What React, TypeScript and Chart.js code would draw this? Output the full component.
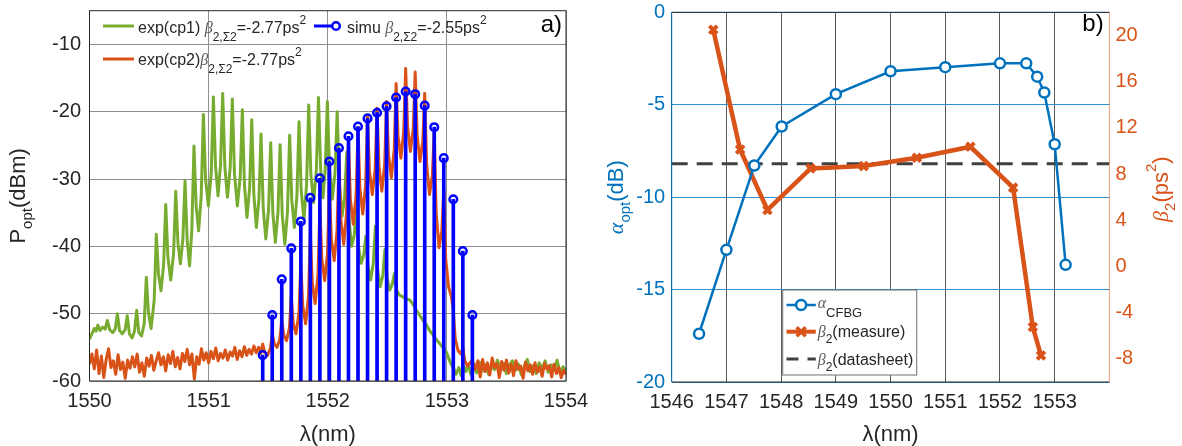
import React, { useEffect, useRef } from "react";
import { Chart, registerables } from "chart.js";

Chart.register(...registerables);

const FONT = "'Liberation Sans', Arial, Helvetica, sans-serif";
const SERIF = "'Liberation Serif', 'DejaVu Serif', serif";

// ---------------- Panel a) data ----------------
const xTicksA = [1550, 1551, 1552, 1553, 1554];
const yTicksA = [-60, -50, -40, -30, -20, -10];

// simulated comb lines (stems)
const simuLambda = [
  1551.454, 1551.534, 1551.614, 1551.694, 1551.774, 1551.854, 1551.934, 1552.014,
  1552.094, 1552.174, 1552.254, 1552.334, 1552.414, 1552.494, 1552.574, 1552.654,
  1552.734, 1552.814, 1552.894, 1552.974, 1553.054, 1553.134, 1553.214,
];
const simuPower = [
  -56.15, -50.2, -44.9, -40.3, -36.3, -32.8, -29.9, -27.4, -25.4, -23.65, -22.2, -21.0,
  -20.15, -19.2, -17.9, -17.0, -17.4, -19.1, -22.3, -26.9, -33.0, -40.7, -50.2,
];

// exp(cp1) measured spectrum [lambda nm, dBm]
const cp1Spectrum: [number, number][] = [
  [1550.000, -53.8], [1550.020, -53.0], [1550.040, -52.2], [1550.055, -52.6], [1550.070, -51.7], [1550.088, -52.5],
  [1550.110, -52.0], [1550.132, -52.3], [1550.150, -51.0], [1550.170, -52.4], [1550.195, -52.8], [1550.216, -52.3],
  [1550.234, -50.0], [1550.252, -52.5], [1550.275, -53.0], [1550.299, -52.4], [1550.317, -50.3], [1550.335, -53.0],
  [1550.357, -53.6], [1550.378, -52.6], [1550.396, -49.5], [1550.414, -52.8], [1550.437, -53.3], [1550.459, -51.5],
  [1550.477, -44.6], [1550.495, -49.9], [1550.517, -52.2], [1550.543, -48.0],
  [1550.561, -38.2], [1550.579, -44.1], [1550.600, -46.6], [1550.622, -42.8],
  [1550.640, -33.8], [1550.658, -41.6], [1550.682, -45.0], [1550.706, -41.0],
  [1550.724, -31.8], [1550.742, -39.4], [1550.763, -42.6], [1550.784, -38.9],
  [1550.802, -30.3], [1550.820, -39.1], [1550.840, -42.9], [1550.859, -37.6],
  [1550.877, -25.1], [1550.895, -33.9], [1550.916, -37.7], [1550.938, -32.5],
  [1550.956, -20.4], [1550.974, -29.9], [1550.998, -34.0], [1551.022, -29.1],
  [1551.040, -17.8], [1551.058, -28.1], [1551.079, -32.5], [1551.100, -27.9],
  [1551.118, -17.3], [1551.136, -28.1], [1551.158, -32.7], [1551.181, -28.3],
  [1551.199, -18.1], [1551.217, -29.2], [1551.241, -34.0], [1551.265, -29.7],
  [1551.283, -19.7], [1551.301, -30.9], [1551.322, -35.7], [1551.344, -31.4],
  [1551.362, -21.2], [1551.380, -32.4], [1551.401, -37.2], [1551.422, -33.0],
  [1551.440, -23.3], [1551.458, -34.2], [1551.480, -38.9], [1551.503, -34.6],
  [1551.521, -24.6], [1551.539, -35.0], [1551.560, -39.4], [1551.582, -35.0],
  [1551.600, -24.9], [1551.618, -35.3], [1551.640, -39.7], [1551.662, -34.8],
  [1551.680, -23.5], [1551.698, -33.1], [1551.720, -37.2], [1551.741, -32.5],
  [1551.759, -21.5], [1551.777, -31.7], [1551.800, -36.0], [1551.822, -30.9],
  [1551.840, -19.0], [1551.858, -29.2], [1551.881, -33.5], [1551.904, -28.8],
  [1551.922, -17.9], [1551.940, -28.3], [1551.960, -32.8], [1551.979, -28.5],
  [1551.997, -18.5], [1552.015, -28.7], [1552.038, -33.0], [1552.061, -29.1],
  [1552.079, -20.0], [1552.097, -30.9], [1552.120, -35.5], [1552.142, -32.6],
  [1552.160, -26.0], [1552.178, -35.8], [1552.200, -40.0], [1552.222, -38.4],
  [1552.240, -34.5], [1552.258, -40.1], [1552.280, -42.5], [1552.302, -41.3],
  [1552.320, -38.5], [1552.338, -43.0], [1552.360, -45.0], [1552.382, -42.6],
  [1552.400, -37.0], [1552.418, -43.3], [1552.440, -46.0], [1552.462, -44.4],
  [1552.480, -40.5], [1552.498, -44.7], [1552.520, -46.5], [1552.542, -45.6],
  [1552.560, -44.0], [1552.578, -46.5], [1552.600, -47.2], [1552.630, -47.5], [1552.660, -47.8], [1552.690, -48.0],
  [1552.715, -48.6], [1552.745, -49.5], [1552.770, -50.2], [1552.800, -51.0], [1552.826, -51.6], [1552.855, -52.5],
  [1552.882, -53.1], [1552.910, -53.8], [1552.938, -54.4], [1552.965, -55.0], [1552.993, -55.6], [1553.015, -56.6],
  [1553.035, -57.5], [1553.055, -58.1], [1553.077, -59.0], [1553.100, -58.0], [1553.120, -59.2], [1553.140, -57.8],
  [1553.160, -58.6], [1553.180, -57.5], [1553.200, -59.0], [1553.225, -57.9], [1553.250, -58.8], [1553.275, -57.2],
  [1553.300, -58.5], [1553.325, -57.6], [1553.350, -59.0], [1553.375, -57.8], [1553.400, -58.3], [1553.425, -56.9],
  [1553.450, -58.6], [1553.475, -57.4], [1553.500, -58.9], [1553.525, -57.6], [1553.550, -57.0], [1553.575, -58.4],
  [1553.600, -57.5], [1553.625, -59.1], [1553.650, -57.8], [1553.675, -56.8], [1553.700, -58.6], [1553.725, -57.7],
  [1553.750, -58.9], [1553.775, -57.3], [1553.800, -58.2], [1553.825, -57.0], [1553.850, -58.7], [1553.875, -57.6],
  [1553.900, -58.4], [1553.925, -56.9], [1553.950, -58.8], [1553.975, -57.9], [1554.000, -58.6],
];

// exp(cp2) measured spectrum [lambda nm, dBm]
const cp2Spectrum: [number, number][] = [
  [1550.000, -57.5], [1550.020, -56.0], [1550.040, -58.2], [1550.060, -55.4], [1550.080, -58.9], [1550.100, -56.3],
  [1550.120, -59.5], [1550.140, -56.8], [1550.160, -55.2], [1550.180, -58.0], [1550.200, -57.0], [1550.220, -59.0],
  [1550.240, -56.1], [1550.260, -58.3], [1550.280, -57.2], [1550.300, -59.6], [1550.320, -56.9], [1550.340, -58.1],
  [1550.360, -56.4], [1550.380, -57.9], [1550.400, -56.0], [1550.420, -58.7], [1550.440, -57.3], [1550.460, -59.3],
  [1550.480, -56.6], [1550.500, -57.8], [1550.520, -56.2], [1550.540, -58.4], [1550.560, -57.0], [1550.580, -55.8],
  [1550.600, -57.6], [1550.620, -56.4], [1550.640, -58.5], [1550.660, -56.1], [1550.680, -57.4], [1550.700, -55.6],
  [1550.720, -57.9], [1550.740, -56.5], [1550.760, -58.2], [1550.780, -55.9], [1550.800, -57.1], [1550.820, -55.3],
  [1550.840, -57.6], [1550.860, -56.0], [1550.880, -59.7], [1550.900, -56.4], [1550.920, -57.5], [1550.940, -55.2],
  [1550.960, -56.9], [1550.980, -55.8], [1551.000, -57.3], [1551.020, -55.6], [1551.040, -56.7], [1551.060, -55.1],
  [1551.080, -57.0], [1551.100, -55.9], [1551.120, -56.6], [1551.140, -55.4], [1551.160, -56.9], [1551.180, -55.7],
  [1551.200, -56.3], [1551.220, -55.0], [1551.240, -56.8], [1551.260, -55.5], [1551.280, -56.4], [1551.300, -54.9],
  [1551.320, -56.2], [1551.340, -55.3], [1551.360, -56.0], [1551.380, -54.8], [1551.400, -55.8], [1551.420, -55.0],
  [1551.438, -55.9],
  [1551.454, -54.5], [1551.470, -55.7], [1551.494, -56.2], [1551.518, -55.2],
  [1551.534, -53.0], [1551.550, -54.4], [1551.574, -55.0], [1551.598, -53.8],
  [1551.614, -51.0], [1551.630, -53.1], [1551.654, -54.0], [1551.678, -52.1],
  [1551.694, -47.5], [1551.710, -51.4], [1551.734, -53.0], [1551.758, -49.9],
  [1551.774, -42.5], [1551.790, -48.8], [1551.814, -51.5], [1551.838, -47.5],
  [1551.854, -38.0], [1551.870, -45.4], [1551.894, -48.5], [1551.918, -44.2],
  [1551.934, -34.0], [1551.950, -41.8], [1551.974, -45.1], [1551.998, -41.0],
  [1552.014, -31.3], [1552.030, -38.9], [1552.054, -42.1], [1552.078, -37.7],
  [1552.094, -27.4], [1552.110, -36.0], [1552.134, -39.7], [1552.158, -35.1],
  [1552.174, -24.4], [1552.190, -33.0], [1552.214, -36.7], [1552.238, -32.4],
  [1552.254, -22.4], [1552.270, -31.4], [1552.294, -35.2], [1552.318, -30.9],
  [1552.334, -20.7], [1552.350, -28.8], [1552.374, -32.3], [1552.398, -28.5],
  [1552.414, -19.5], [1552.430, -28.1], [1552.454, -31.8], [1552.478, -27.8],
  [1552.494, -18.5], [1552.510, -26.4], [1552.534, -29.8], [1552.558, -25.6],
  [1552.574, -15.8], [1552.590, -23.6], [1552.614, -26.9], [1552.638, -22.9],
  [1552.654, -13.6], [1552.670, -22.2], [1552.694, -25.9], [1552.718, -22.4],
  [1552.734, -14.1], [1552.750, -23.4], [1552.774, -27.4], [1552.798, -24.4],
  [1552.814, -17.3], [1552.830, -27.8], [1552.854, -32.3], [1552.878, -29.5],
  [1552.894, -23.0], [1552.910, -35.0], [1552.934, -40.2], [1552.958, -37.6],
  [1552.974, -31.5], [1552.990, -41.8], [1553.014, -46.0], [1553.038, -47.5],
  [1553.054, -49.5], [1553.070, -53.7], [1553.094, -55.5], [1553.118, -56.0],
  [1553.134, -55.0], [1553.150, -57.0], [1553.174, -57.8], [1553.198, -57.2],
  [1553.214, -57.0], [1553.240, -58.2], [1553.260, -57.0], [1553.280, -59.4], [1553.300, -56.8], [1553.320, -58.6],
  [1553.340, -57.3], [1553.360, -59.1], [1553.380, -56.6], [1553.400, -58.0], [1553.420, -57.4], [1553.440, -59.5],
  [1553.460, -57.1], [1553.480, -58.4], [1553.500, -56.9], [1553.520, -58.8], [1553.540, -57.5], [1553.560, -59.2],
  [1553.580, -57.0], [1553.600, -58.3], [1553.620, -57.8], [1553.640, -59.6], [1553.660, -57.2], [1553.680, -58.5],
  [1553.700, -57.6], [1553.720, -59.0], [1553.740, -57.3], [1553.760, -58.7], [1553.780, -57.9], [1553.800, -59.3],
  [1553.820, -57.4], [1553.840, -58.2], [1553.860, -57.7], [1553.880, -59.4], [1553.900, -57.5], [1553.920, -58.9],
  [1553.940, -58.0], [1553.960, -59.5], [1553.980, -58.4], [1554.000, -59.0],
];

// ---------------- Panel b) data ----------------
const xTicksB = [1546, 1547, 1548, 1549, 1550, 1551, 1552, 1553];
const alphaTicks = [-20, -15, -10, -5, 0];
const beta2Ticks = [-8, -4, 0, 4, 8, 12, 16, 20];

const alphaLambda = [1546.5, 1547.0, 1547.51, 1548.01, 1549.0, 1550.0, 1551.0, 1552.0, 1552.48, 1552.68, 1552.81, 1553.0, 1553.2];
const alphaCFBG = [-17.39, -12.85, -8.29, -6.18, -4.43, -3.19, -2.97, -2.76, -2.76, -3.48, -4.34, -7.14, -13.66];

const beta2Lambda = [1546.76, 1547.25, 1547.75, 1548.54, 1549.51, 1550.48, 1551.46, 1552.24, 1552.6, 1552.75];
const beta2Measure = [20.49, 10.13, 4.89, 8.49, 8.69, 9.41, 10.36, 6.82, -5.24, -7.71];

const datasheetLambda = [1546, 1554];
const datasheetBeta2 = [8.9, 8.9];

// ---------------- colours ----------------
const GREEN = "#77AC30";
const ORANGE = "#D95319";
const STEMBLUE = "#0000FF";
const MBLUE = "#0072BD";
const DARK = "#262626";

// ---------------- text helpers ----------------
type Seg = { t: string; size: number; dy?: number; italic?: boolean; family?: string; color?: string };
const segFont = (s: Seg) => `${s.italic ? "italic " : ""}${s.size}px ${s.family || FONT}`;
function richWidth(ctx: CanvasRenderingContext2D, segs: Seg[]) {
  let w = 0;
  for (const s of segs) {
    ctx.font = segFont(s);
    w += ctx.measureText(s.t).width;
  }
  return w;
}
function drawRich(ctx: CanvasRenderingContext2D, segs: Seg[], x: number, y: number, color: string, align = "left") {
  const w = richWidth(ctx, segs);
  let cx = align === "center" ? x - w / 2 : align === "right" ? x - w : x;
  ctx.textBaseline = "alphabetic";
  ctx.textAlign = "left";
  for (const s of segs) {
    ctx.font = segFont(s);
    ctx.fillStyle = s.color || color;
    ctx.fillText(s.t, cx, y + (s.dy || 0));
    cx += ctx.measureText(s.t).width;
  }
}
function drawRotated(ctx: CanvasRenderingContext2D, segs: Seg[], bx: number, cy: number, color: string) {
  ctx.save();
  ctx.translate(bx, cy);
  ctx.rotate(-Math.PI / 2);
  drawRich(ctx, segs, 0, 0, color, "center");
  ctx.restore();
}

const fixW = (w: number) => (s: any) => {
  s.width = w;
  s.paddingTop = 0;
  s.paddingBottom = 0;
};
const fixH = (h: number) => (s: any) => {
  s.height = h;
  s.paddingLeft = 0;
  s.paddingRight = 0;
};
const setTicks = (vals: number[]) => (s: any) => {
  s.ticks = vals.map((v) => ({ value: v }));
};
const plainLabel = (v: any) => String(v);

const beta = (size: number): Seg => ({ t: "β", size, italic: true, family: SERIF, color: "#5a5a5a" });

// ---------------- Panel a) ----------------
const decorA = {
  id: "decorA",
  afterDraw(chart: any) {
    const ctx: CanvasRenderingContext2D = chart.ctx;
    const a = chart.chartArea;
    ctx.save();
    // frame
    ctx.strokeStyle = DARK;
    ctx.lineWidth = 1;
    ctx.strokeRect(a.left, a.top, a.right - a.left, a.bottom - a.top);

    // legend (no box)
    ctx.lineCap = "butt";
    ctx.lineWidth = 3;
    ctx.strokeStyle = GREEN;
    ctx.beginPath();
    ctx.moveTo(103, 26);
    ctx.lineTo(134, 26);
    ctx.stroke();
    ctx.strokeStyle = ORANGE;
    ctx.beginPath();
    ctx.moveTo(103, 59);
    ctx.lineTo(134, 59);
    ctx.stroke();
    ctx.strokeStyle = STEMBLUE;
    ctx.beginPath();
    ctx.moveTo(314, 26);
    ctx.lineTo(333, 26);
    ctx.stroke();
    ctx.lineWidth = 2.5;
    ctx.beginPath();
    ctx.arc(336, 26, 3.8, 0, Math.PI * 2);
    ctx.stroke();

    const sub = (t: string): Seg => ({ t, size: 12, dy: 7.5 });
    const sup = (t: string): Seg => ({ t, size: 12, dy: -9 });
    drawRich(ctx, [{ t: "exp(cp1) ", size: 16 }, beta(16), sub("2,Σ2"), { t: "=-2.77ps", size: 16 }, sup("2")], 138, 33, DARK);
    drawRich(ctx, [{ t: "simu ", size: 16 }, beta(16), sub("2,Σ2"), { t: "=-2.55ps", size: 16 }, sup("2")], 347, 33, DARK);
    drawRich(ctx, [{ t: "exp(cp2)", size: 16 }, beta(16), sub("2,Σ2"), { t: "=-2.77ps", size: 16 }, sup("2")], 138, 65, DARK);

    // panel tag
    drawRich(ctx, [{ t: "a)", size: 24 }], 562, 32, "#000", "right");

    // axis titles
    const cx = (a.left + a.right) / 2;
    drawRich(ctx, [{ t: "λ(nm)", size: 22 }], cx, 440.5, DARK, "center");
    drawRotated(ctx, [{ t: "P", size: 22 }, { t: "opt", size: 15, dy: 7 }, { t: "(dBm)", size: 22 }], 25, (a.top + a.bottom) / 2, DARK);
    ctx.restore();
  },
};

function PanelA() {
  const ref = useRef<HTMLCanvasElement>(null);
  useEffect(() => {
    const chart = new Chart(ref.current as HTMLCanvasElement, {
      type: "line",
      data: {
        datasets: [
          {
            type: "line",
            data: simuLambda.map((x, i) => ({ x, y: simuPower[i] })),
            showLine: false,
            pointStyle: "circle",
            pointRadius: 3.8,
            pointBorderWidth: 2.5,
            pointBorderColor: STEMBLUE,
            pointBackgroundColor: "rgba(0,0,0,0)",
            order: 0,
          } as any,
          {
            type: "bar",
            data: simuLambda.map((x, i) => ({ x, y: [-60, simuPower[i]] })),
            backgroundColor: STEMBLUE,
            borderWidth: 0,
            barThickness: 3,
            order: 1,
          } as any,
          {
            type: "line",
            data: cp2Spectrum.map(([x, y]) => ({ x, y })),
            borderColor: ORANGE,
            borderWidth: 3,
            pointRadius: 0,
            tension: 0,
            borderJoinStyle: "round",
            order: 2,
          } as any,
          {
            type: "line",
            data: cp1Spectrum.map(([x, y]) => ({ x, y })),
            borderColor: GREEN,
            borderWidth: 3,
            pointRadius: 0,
            tension: 0,
            borderJoinStyle: "round",
            order: 3,
          } as any,
        ],
      },
      options: {
        responsive: false,
        animation: false,
        devicePixelRatio: 1,
        events: [],
        layout: { padding: { left: 0, right: 24, top: 10.7, bottom: 0 } },
        plugins: { legend: { display: false }, tooltip: { enabled: false }, title: { display: false } },
        scales: {
          x: {
            type: "linear",
            offset: false,
            min: 1550,
            max: 1554,
            afterBuildTicks: setTicks(xTicksA),
            afterFit: fixH(65),
            grid: { color: "#8f8f8f", lineWidth: 1, drawTicks: false, offset: false },
            border: { display: false },
            ticks: { callback: plainLabel, color: DARK, font: { size: 20, family: FONT }, padding: 8, maxRotation: 0, autoSkip: false },
          },
          y: {
            type: "linear",
            min: -60,
            max: -5,
            afterBuildTicks: setTicks(yTicksA),
            afterFit: fixW(89.5),
            grid: { color: "#8f8f8f", lineWidth: 1, drawTicks: false },
            border: { display: false },
            ticks: { callback: plainLabel, color: DARK, font: { size: 20, family: FONT }, padding: 8.5 },
          },
        },
      } as any,
      plugins: [decorA],
    });
    return () => chart.destroy();
  }, []);
  return (
    <canvas
      ref={ref}
      width={590}
      height={446}
      style={{ position: "absolute", left: 0, top: 0, width: 590, height: 446 }}
    />
  );
}

// ---------------- Panel b) ----------------
const decorB = {
  id: "decorB",
  afterDraw(chart: any) {
    const ctx: CanvasRenderingContext2D = chart.ctx;
    const a = chart.chartArea;
    ctx.save();
    ctx.lineWidth = 1;
    // frame
    ctx.strokeStyle = DARK;
    ctx.beginPath();
    ctx.moveTo(a.left, a.top);
    ctx.lineTo(a.right, a.top);
    ctx.moveTo(a.left, a.bottom);
    ctx.lineTo(a.right, a.bottom);
    ctx.stroke();
    ctx.strokeStyle = MBLUE;
    ctx.beginPath();
    ctx.moveTo(a.left, a.top);
    ctx.lineTo(a.left, a.bottom);
    ctx.stroke();
    ctx.strokeStyle = "rgba(217,83,25,0.55)";
    ctx.beginPath();
    ctx.moveTo(a.right, a.top);
    ctx.lineTo(a.right, a.bottom);
    ctx.stroke();

    // legend box
    const bx = 192.7, by = 290, bw = 134, bh = 85;
    ctx.fillStyle = "#ffffff";
    ctx.fillRect(bx, by, bw, bh);
    ctx.strokeStyle = "#6e6e6e";
    ctx.lineWidth = 1;
    ctx.strokeRect(bx, by, bw, bh);

    const lx0 = 196.5, lx1 = 225.8, lxc = (lx0 + lx1) / 2, tx = 227.7;
    // row 1: alpha
    ctx.strokeStyle = MBLUE;
    ctx.lineWidth = 2.5;
    ctx.beginPath();
    ctx.moveTo(lx0, 305);
    ctx.lineTo(lx1, 305);
    ctx.stroke();
    ctx.fillStyle = "#fff";
    ctx.beginPath();
    ctx.arc(lxc, 305, 5, 0, Math.PI * 2);
    ctx.fill();
    ctx.stroke();
    drawRich(ctx, [{ t: "α", size: 16, family: SERIF, italic: true, color: "#5a5a5a" }, { t: "CFBG", size: 13, dy: 9 }], tx, 308, DARK);
    // row 2: beta2 measure
    ctx.strokeStyle = ORANGE;
    ctx.lineWidth = 4;
    ctx.beginPath();
    ctx.moveTo(lx0, 331.7);
    ctx.lineTo(lx1, 331.7);
    ctx.stroke();
    ctx.lineWidth = 3.5;
    ctx.beginPath();
    ctx.moveTo(lxc - 4.5, 327.2);
    ctx.lineTo(lxc + 4.5, 336.2);
    ctx.moveTo(lxc - 4.5, 336.2);
    ctx.lineTo(lxc + 4.5, 327.2);
    ctx.stroke();
    drawRich(ctx, [beta(16), { t: "2", size: 12, dy: 6 }, { t: "(measure)", size: 16 }], tx, 337, DARK);
    // row 3: datasheet
    ctx.strokeStyle = "#404040";
    ctx.lineWidth = 3;
    ctx.setLineDash([12, 9]);
    ctx.beginPath();
    ctx.moveTo(lx0, 359);
    ctx.lineTo(lx1, 359);
    ctx.stroke();
    ctx.setLineDash([]);
    drawRich(ctx, [beta(16), { t: "2", size: 12, dy: 6 }, { t: "(datasheet)", size: 16 }], tx, 364.5, DARK);

    // panel tag
    drawRich(ctx, [{ t: "b)", size: 24 }], 513.7, 31, "#000", "right");

    // titles
    const cx = (a.left + a.right) / 2;
    drawRich(ctx, [{ t: "λ(nm)", size: 22 }], cx, 440.5, DARK, "center");
    drawRotated(
      ctx,
      [{ t: "α", size: 22, family: SERIF, italic: true }, { t: "opt", size: 15, dy: 7 }, { t: "(dB)", size: 22 }],
      33,
      (a.top + a.bottom) / 2,
      MBLUE
    );
    drawRotated(
      ctx,
      [
        { t: "β", size: 22, family: SERIF, italic: true },
        { t: "2", size: 15, dy: 7 },
        { t: "(ps", size: 22 },
        { t: "2", size: 15, dy: -12 },
        { t: ")", size: 22 },
      ],
      578,
      (a.top + a.bottom) / 2 - 8,
      ORANGE
    );
    ctx.restore();
  },
};

function PanelB() {
  const ref = useRef<HTMLCanvasElement>(null);
  useEffect(() => {
    const chart = new Chart(ref.current as HTMLCanvasElement, {
      type: "line",
      data: {
        datasets: [
          {
            type: "line",
            data: alphaLambda.map((x, i) => ({ x, y: alphaCFBG[i] })),
            yAxisID: "y",
            borderColor: MBLUE,
            borderWidth: 2.5,
            pointStyle: "circle",
            pointRadius: 5,
            pointBorderWidth: 2.5,
            pointBorderColor: MBLUE,
            pointBackgroundColor: "#ffffff",
            tension: 0,
            order: 0,
          } as any,
          {
            type: "line",
            data: beta2Lambda.map((x, i) => ({ x, y: beta2Measure[i] })),
            yAxisID: "y1",
            borderColor: ORANGE,
            borderWidth: 4.5,
            pointStyle: "crossRot",
            pointRadius: 5.5,
            pointBorderWidth: 4,
            pointBorderColor: ORANGE,
            tension: 0,
            order: 1,
          } as any,
          {
            type: "line",
            data: datasheetLambda.map((x, i) => ({ x, y: datasheetBeta2[i] })),
            yAxisID: "y1",
            borderColor: "#404040",
            borderWidth: 3,
            borderDash: [16, 9],
            pointRadius: 0,
            order: 2,
          } as any,
        ],
      },
      options: {
        responsive: false,
        animation: false,
        devicePixelRatio: 1,
        events: [],
        layout: { padding: { left: 0, right: 0, top: 12.3, bottom: 0 } },
        plugins: { legend: { display: false }, tooltip: { enabled: false }, title: { display: false } },
        scales: {
          x: {
            type: "linear",
            offset: false,
            min: 1546,
            max: 1554,
            afterBuildTicks: setTicks(xTicksB),
            afterFit: fixH(64),
            grid: { color: "#5a5a5a", lineWidth: 1, drawTicks: false, offset: false },
            border: { display: false },
            ticks: { callback: plainLabel, color: DARK, font: { size: 20, family: FONT }, padding: 8, maxRotation: 0, autoSkip: false },
          },
          y: {
            type: "linear",
            position: "left",
            min: -20,
            max: 0,
            afterBuildTicks: setTicks(alphaTicks),
            afterFit: fixW(81.7),
            grid: { color: "#2e8fd6", lineWidth: 1, drawTicks: false },
            border: { display: false },
            ticks: { callback: plainLabel, color: MBLUE, font: { size: 20, family: FONT }, padding: 6.5 },
          },
          y1: {
            type: "linear",
            position: "right",
            min: -10,
            max: 22,
            afterBuildTicks: setTicks(beta2Ticks),
            afterFit: fixW(72.6),
            grid: { display: false, drawTicks: false },
            border: { display: false },
            ticks: { callback: plainLabel, color: ORANGE, font: { size: 20, family: FONT }, padding: 6 },
          },
        },
      } as any,
      plugins: [decorB],
    });
    return () => chart.destroy();
  }, []);
  return (
    <canvas
      ref={ref}
      width={592}
      height={446}
      style={{ position: "absolute", left: 590, top: 0, width: 592, height: 446 }}
    />
  );
}

export default function App() {
  return (
    <div style={{ position: "absolute", left: 0, top: 0, width: 1182, height: 446, background: "#ffffff", overflow: "hidden" }}>
      <PanelA />
      <PanelB />
    </div>
  );
}
